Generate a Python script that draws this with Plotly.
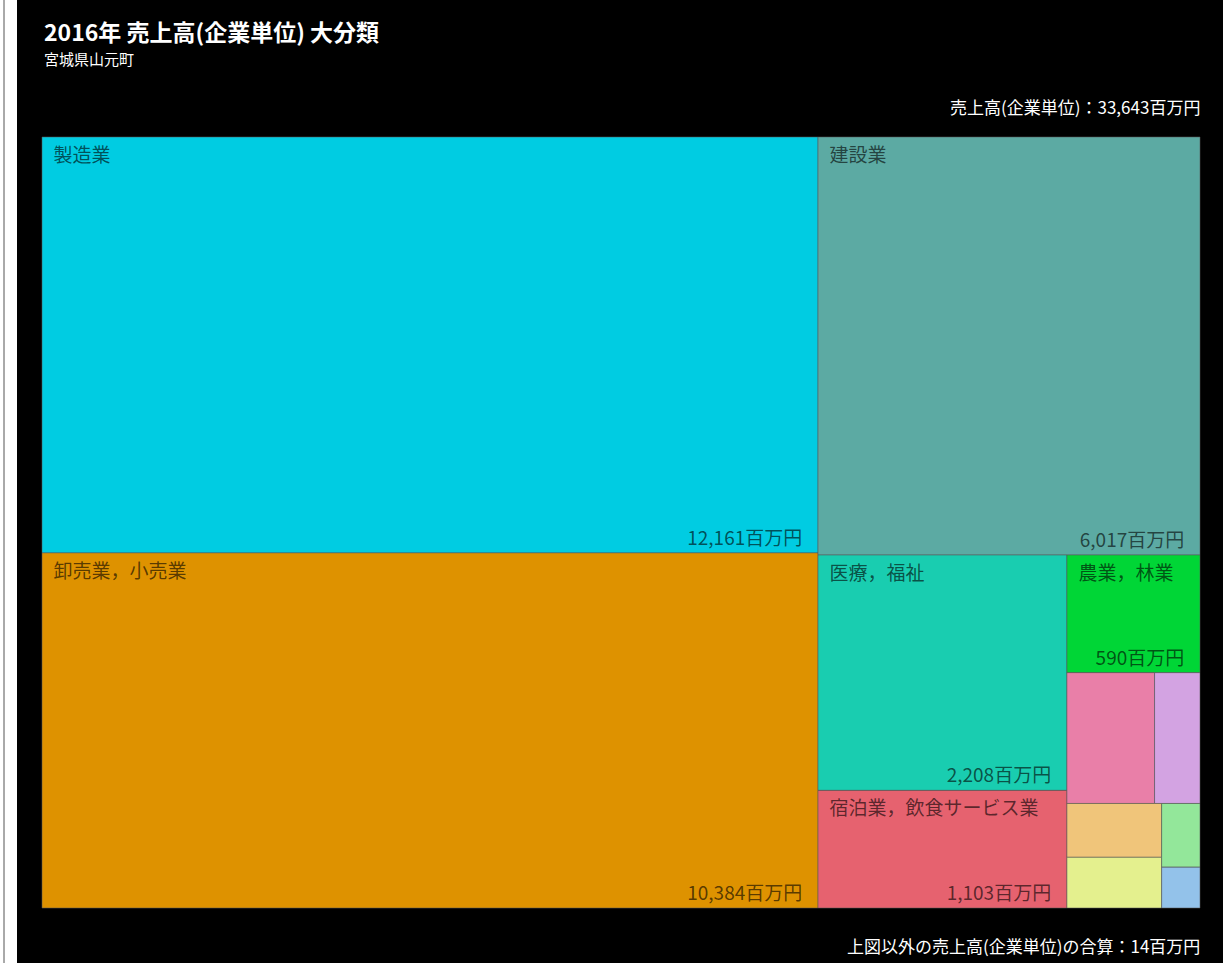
import plotly.graph_objects as go

# ---- data ----
industries = [
    "製造業", "卸売業，小売業", "建設業", "医療，福祉", "宿泊業，飲食サービス業",
    "農業，林業", "運輸業，郵便業", "生活関連サービス業，娯楽業",
    "不動産業，物品賃貸業", "サービス業（他に分類されないもの）",
    "学術研究，専門・技術サービス業", "教育，学習支援業",
]
sales = [12161, 10384, 6017, 2208, 1103, 590, 432, 224, 192, 181, 92, 59]
labelled = [True, True, True, True, True, True, False, False, False, False, False, False]
tile_colors = [
    "#00CCE2", "#DE9200", "#5CAAA3", "#19CDB0", "#E6626F", "#00D636",
    "#E97FA8", "#D3A3E2", "#F0C57A", "#E4F08E", "#93E79A", "#93C2EA",
]
title_text = "2016年 売上高(企業単位) 大分類"
subtitle_text = "宮城県山元町"
total_text = "売上高(企業単位)：33,643百万円"
other_text = "上図以外の売上高(企業単位)の合算：14百万円"

FONT = "Noto Sans CJK JP"
W, H = 1223, 963
ML, MR, MT, MB = 42, 23, 137, 55
PW, PH = W - ML - MR, H - MT - MB

parents = [""] * len(industries)
tiling = dict(packing="squarify", squarifyratio=1.618034, pad=0)
nopad = dict(t=0, l=0, r=0, b=0)
NB = "\u00a0"

label_tpl = [(NB + NB + "%{label}") if s else " " for s in labelled]
value_tpl = [("%{value:,}百万円" + NB * 3) if s else " " for s in labelled]

fig = go.Figure()
fig.add_trace(go.Treemap(
    labels=industries, parents=parents, values=sales,
    sort=True, tiling=tiling,
    marker=dict(colors=tile_colors, line=dict(color="rgba(90,90,90,0.55)", width=1), pad=nopad),
    texttemplate=label_tpl, textposition="top left",
    textfont=dict(family=FONT, size=19, color="rgba(0,0,0,0.62)"),
    pathbar=dict(visible=False),
    hovertemplate="%{label}<br>%{value:,}百万円<extra></extra>",
))
fig.add_trace(go.Treemap(
    labels=industries, parents=parents, values=sales,
    sort=True, tiling=tiling,
    marker=dict(colors=["rgba(0,0,0,0)"] * len(industries), line=dict(width=0), pad=nopad),
    texttemplate=value_tpl, textposition="bottom right",
    textfont=dict(family=FONT, size=19, color="rgba(0,0,0,0.62)"),
    pathbar=dict(visible=False),
    hoverinfo="skip",
))


def px(x):
    return (x - ML) / PW


def py(y):
    return 1 - (y - MT) / PH


annotations = [
    dict(text="<b>" + title_text + "</b>", x=px(ML), y=py(31), font=dict(size=23, color="white", family=FONT),
         xanchor="left", yanchor="middle"),
    dict(text=subtitle_text, x=px(ML), y=py(59), font=dict(size=15, color="white", family=FONT),
         xanchor="left", yanchor="middle"),
    dict(text=total_text, x=px(W - MR + 2), y=py(107), font=dict(size=17, color="white", family=FONT),
         xanchor="right", yanchor="middle"),
    dict(text=other_text, x=px(W - MR + 2), y=py(945), font=dict(size=17, color="white", family=FONT),
         xanchor="right", yanchor="middle"),
]
for a in annotations:
    a.update(xref="paper", yref="paper", showarrow=False)

fig.update_layout(
    width=W, height=H,
    margin=dict(l=ML, r=MR, t=MT, b=MB),
    paper_bgcolor="black", plot_bgcolor="black",
    annotations=annotations,
    shapes=[
        dict(type="rect", xref="paper", yref="paper", x0=px(0), x1=px(17), y0=py(H), y1=py(0),
             fillcolor="white", line=dict(width=0), layer="below"),
        dict(type="line", xref="paper", yref="paper", x0=px(4), x1=px(4), y0=py(H), y1=py(0),
             line=dict(color="#555555", width=1)),
    ],
    showlegend=False,
)

fig.write_html("out.html", config={"displayModeBar": False},
               post_script="document.body.style.margin='0';")
